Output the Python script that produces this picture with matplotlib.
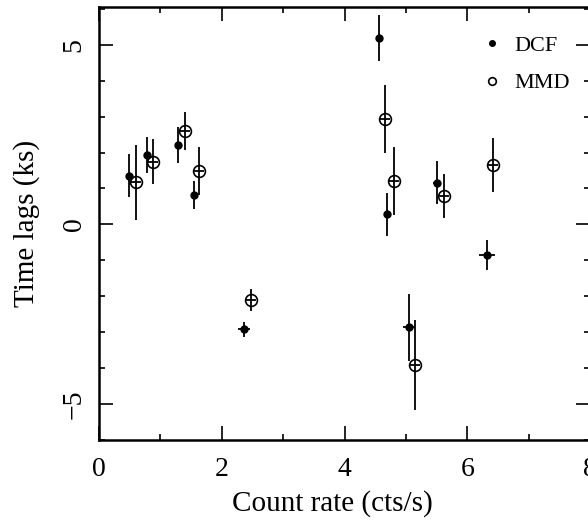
import numpy as np
import matplotlib
matplotlib.use("Agg")
import matplotlib.pyplot as plt
from matplotlib.lines import Line2D
from matplotlib.ticker import MultipleLocator

# DCF lags
dcf_rate = [0.49, 0.78, 1.29, 1.55, 2.36, 4.56, 4.69, 5.05, 5.50, 6.32]
dcf_lag = [1.36, 1.94, 2.21, 0.82, -2.92, 5.20, 0.28, -2.86, 1.16, -0.86]
dcf_err = [0.60, 0.50, 0.50, 0.38, 0.20, 0.64, 0.60, 0.93, 0.60, 0.42]
dcf_xerr = [0.04, 0.04, 0.04, 0.05, 0.10, 0.04, 0.05, 0.10, 0.05, 0.13]

# MMD lags
mmd_rate = [0.60, 0.88, 1.40, 1.63, 2.48, 4.66, 4.80, 5.15, 5.62, 6.42]
mmd_lag = [1.17, 1.75, 2.60, 1.48, -2.11, 2.93, 1.20, -3.92, 0.80, 1.65]
mmd_err = [1.05, 0.62, 0.52, 0.66, 0.30, 0.94, 0.95, 1.25, 0.61, 0.75]
mmd_xerr = [0.08] * 10

plt.rcParams['font.family'] = ['Liberation Serif', 'DejaVu Serif']

fig = plt.figure(figsize=(5.88, 5.26), dpi=100)
ax = fig.add_axes([0.1684, 0.1635, 0.835, 0.8232])

ax.errorbar(dcf_rate, dcf_lag, yerr=dcf_err, xerr=dcf_xerr, fmt='o', color='black',
            ms=5, elinewidth=1.3, capsize=0)
ax.errorbar(mmd_rate, mmd_lag, yerr=mmd_err, xerr=mmd_xerr, fmt='o', color='black',
            mfc='none', mec='black', mew=1.2, ms=8.5, elinewidth=1.3, capsize=0)

ax.set_xlim(0, 8)
ax.set_ylim(-6, 6.05)
ax.xaxis.set_major_locator(MultipleLocator(2))
ax.xaxis.set_minor_locator(MultipleLocator(1))
ax.yaxis.set_major_locator(MultipleLocator(5))
ax.yaxis.set_minor_locator(MultipleLocator(1))
ax.tick_params(which='both', direction='in', top=True, right=True, width=1.2,
               labelsize=20)
ax.tick_params(which='major', length=10)
ax.tick_params(which='minor', length=4.5)
ax.tick_params(axis='x', pad=12)
ax.tick_params(axis='y', pad=9)
for lab in ax.get_yticklabels():
    lab.set_rotation(90)
    lab.set_va('center')
for sp in ax.spines.values():
    sp.set_linewidth(1.8)

ax.set_xlabel('Count rate (cts/s)', fontsize=21)
ax.set_ylabel('Time lags (ks)', fontsize=21)
ax.xaxis.set_label_coords(0.475, -0.115)
ax.yaxis.set_label_coords(-0.12, 0.5)

handles = [Line2D([], [], ls='none', marker='o', color='black', ms=4),
           Line2D([], [], ls='none', marker='o', mfc='none', mec='black', mew=1.2, ms=5.5)]
ax.legend(handles, ['DCF', 'MMD'], loc='upper right', bbox_to_anchor=(1.0, 0.98),
          frameon=False, fontsize=16, handletextpad=0.5, handlelength=1.0,
          labelspacing=0.75)

fig.savefig('out.png', dpi=100)
